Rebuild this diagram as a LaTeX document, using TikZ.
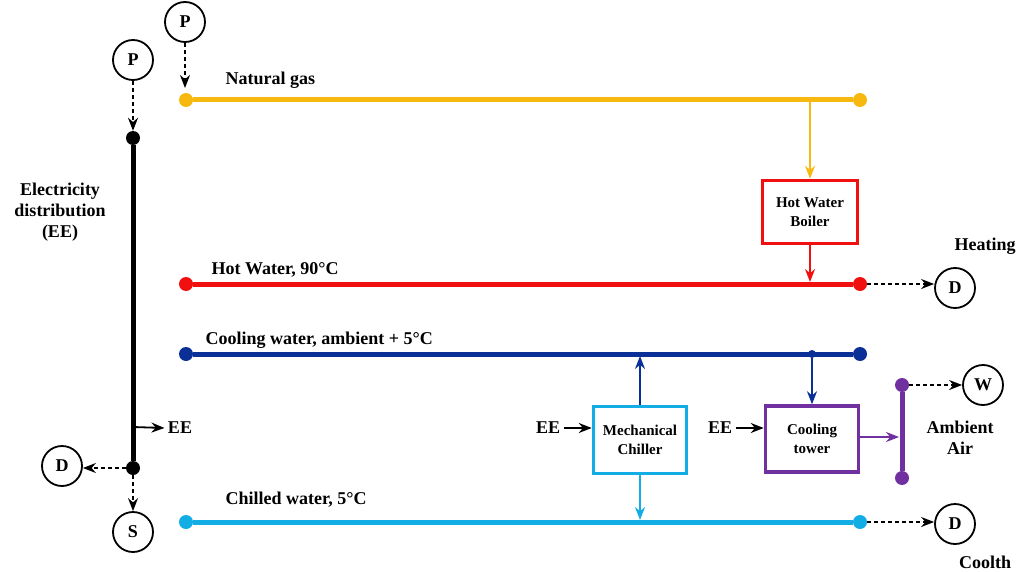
\documentclass[tikz,border=0pt]{standalone}
\usepackage{fontspec}
\setmainfont{Liberation Serif}
\usetikzlibrary{arrows.meta}
\definecolor{gold}{HTML}{F7B90F}
\definecolor{hred}{HTML}{F01010}
\definecolor{navy}{HTML}{0A2F96}
\definecolor{cyanw}{HTML}{13ADE6}
\definecolor{purp}{HTML}{7030A0}
\begin{document}
\begin{tikzpicture}[x=1pt,y=-1pt,font=\bfseries\fontsize{18}{21}\selectfont,
 circ/.style={circle,draw,line width=1.8pt,minimum size=40pt,inner sep=0pt},
 dot/.style={circle,fill=#1,minimum size=14pt,inner sep=0pt},
 pipe/.style={line width=5pt,draw=#1},
 box/.style={draw=#1,line width=3.5pt,align=center,inner sep=2pt,font=\bfseries\fontsize{15}{19}\selectfont},
 arr/.style={-{Stealth[length=13pt,width=10pt]},line width=1.8pt,draw=#1},
 darr/.style={-{Stealth[length=13pt,width=10pt]},line width=1.6pt,dash pattern=on 4pt off 3pt}]
\useasboundingbox (0,0) rectangle (1024,572);
% natural gas
\node[circ] (P1) at (185,22) {P};
\node[dot=gold] (g1) at (186,100) {}; \node[dot=gold] (g2) at (860,100) {};
\draw[pipe=gold] (g1) -- (g2);
\node[anchor=west] at (222,80) {Natural gas};
\coordinate (gb) at (810,100);
\draw[darr] (P1) -- (185,88);
\node[box=hred,minimum width=95pt,minimum height=63pt] (HWB) at (810,212) {Hot Water\\Boiler};
\draw[arr=gold] (gb) -- (HWB.north);
% hot water
\node[dot=hred] (h1) at (186,284) {}; \node[dot=hred] (h2) at (860,284) {};
\draw[pipe=hred] (h1) -- (h2);
\coordinate (hb) at (810,282);
\draw[arr=hred] (HWB.south) -- (hb);
\node[anchor=west] at (208,270) {Hot Water, 90°C};
\node[circ] (D1) at (955,288) {D};
\draw[darr] (h2) -- (D1.west |- h2);
\node at (985,246) {Heating};
% cooling water
\node[dot=navy] (c1) at (186,354) {}; \node[dot=navy] (c2) at (860,354) {};
\draw[pipe=navy] (c1) -- (c2);
\node[anchor=west] at (202,340) {Cooling water, ambient + 5°C};
\node[dot=navy,minimum size=8pt] (c3) at (812,354) {};
\coordinate (cm) at (640,356);
\node[box=cyanw,minimum width=93pt,minimum height=67pt] (MC) at (640,440) {Mechanical\\Chiller};
\draw[arr=navy] (MC.north) -- (cm);
\node[box=purp,minimum width=93pt,minimum height=66pt] (CT) at (812,439) {Cooling\\tower};
\draw[arr=navy] (c3) -- (CT.north);
\node (EE2) at (548,428) {EE}; \draw[arr=black] (EE2) -- (MC.west |- EE2);
\node (EE3) at (720,428) {EE}; \draw[arr=black] (EE3) -- (CT.west |- EE3);
% purple
\node[dot=purp] (a1) at (902,385) {}; \node[dot=purp] (a2) at (902,478) {};
\draw[pipe=purp] (a1) -- (a2);
\coordinate (at) at (899,437);
\draw[arr=purp,line width=2.5pt] (CT.east |- at) -- (at);
\node[circ] (W) at (983,385) {W};
\draw[darr] (a1) -- (W);
\node[align=center] at (960,438) {Ambient\\Air};
% chilled water
\node[dot=cyanw] (w1) at (186,522) {}; \node[dot=cyanw] (w2) at (860,522) {};
\draw[pipe=cyanw] (w1) -- (w2);
\coordinate (wm) at (640,520);
\draw[arr=cyanw] (MC.south) -- (wm);
\node[anchor=west] at (222,500) {Chilled water, 5°C};
\node[circ] (D3) at (955,524) {D};
\draw[darr] (w2) -- (D3.west |- w2);
\node at (985,562) {Coolth};
% electricity
\node[circ] (P2) at (133,60) {P};
\node[dot=black] (e1) at (133,138) {}; \node[dot=black] (e2) at (133,468) {};
\draw[darr] (P2) -- (e1);
\draw[line width=5pt] (e1) -- (e2);
\coordinate (ee) at (133,427);
\node (EE1) at (180,428) {EE};
\draw[arr=black] (ee) -- (EE1.west);
\node[circ] (D2) at (62,466) {D};
\draw[darr] (e2) -- (D2.east |- e2);
\node[circ] (S) at (133,532) {S};
\draw[darr] (e2) -- (S);
\node[align=center] at (60,212) {Electricity\\distribution\\(EE)};
\end{tikzpicture}
\end{document}
